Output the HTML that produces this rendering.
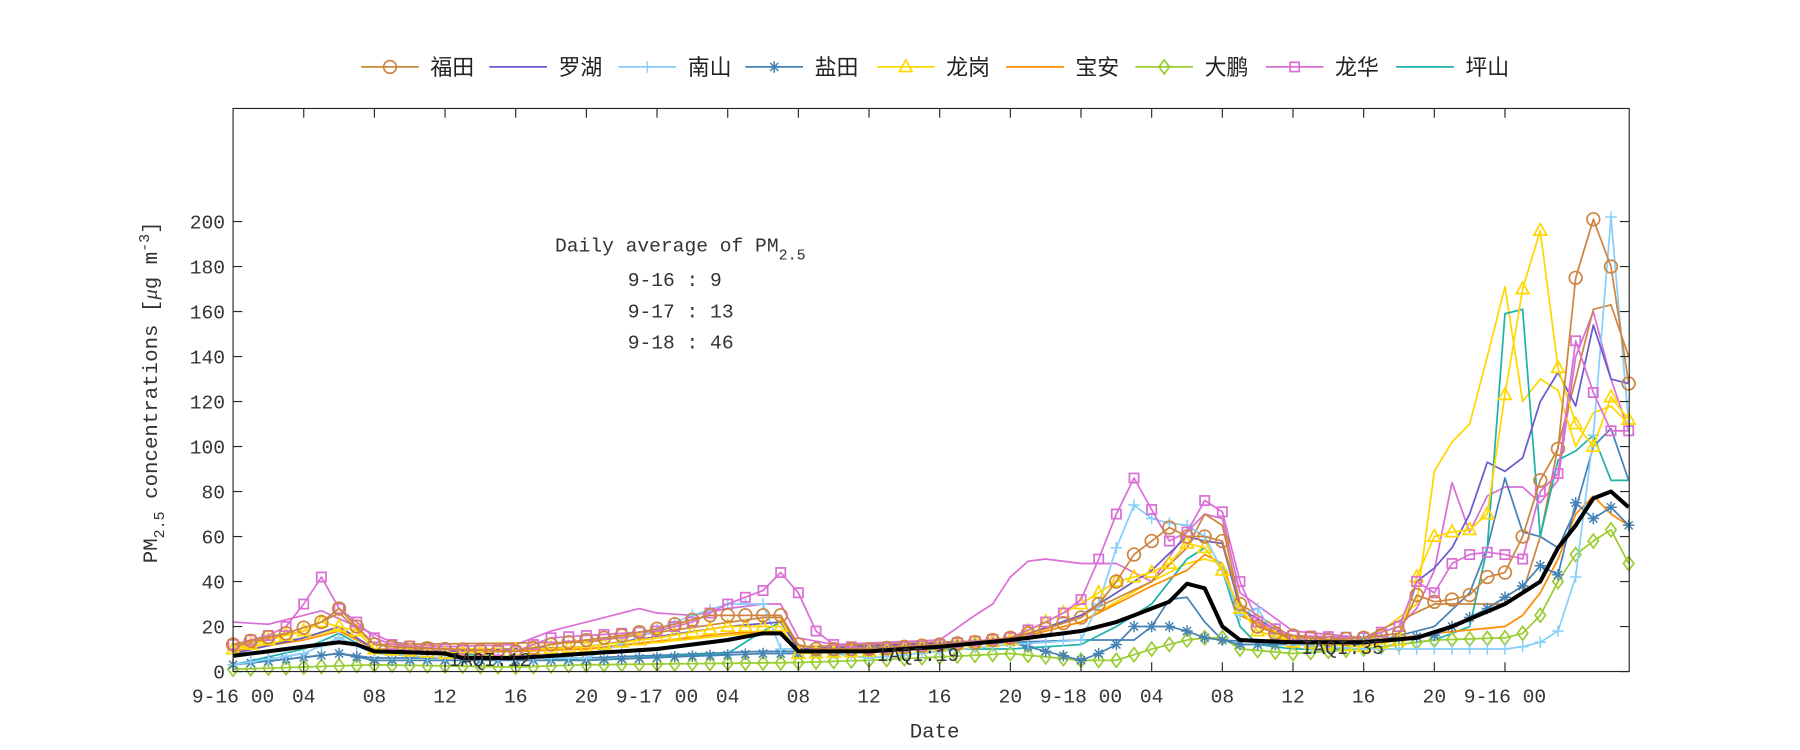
<!DOCTYPE html>
<html><head><meta charset="utf-8">
<style>
html,body{margin:0;padding:0;background:#fff;}
svg{display:block;}
text{font-family:"Liberation Mono",monospace;fill:#333;}
.cjk{font-family:"Liberation Sans","Noto Sans CJK SC",sans-serif;fill:#222;}
</style></head>
<body>
<svg id="s" width="1800" height="750" viewBox="0 0 1560 650" xmlns="http://www.w3.org/2000/svg">
<rect x="0" y="0" width="1560" height="650" fill="#fff"/>
<g id="plot"></g>
<rect x="202" y="94" width="1210" height="488" fill="none" stroke="#262626" stroke-width="1"/>
<g id="ticks"></g>
<g font-size="17">
<text x="481" y="218">Daily average of PM<tspan font-size="13" dy="7">2.5</tspan></text>
<text x="544" y="248">9-16 : 9</text>
<text x="544" y="275">9-17 : 13</text>
<text x="544" y="302">9-18 : 46</text>
<text x="389" y="577">IAQI:12</text>
<text x="760" y="573">IAQI:19</text>
<text x="1128" y="567">IAQI:35</text>
</g>
<text x="810" y="639" font-size="18" text-anchor="middle">Date</text>
<text transform="translate(136,340) rotate(-90)" font-size="18" text-anchor="middle">PM<tspan font-size="13" dy="6">2.5</tspan><tspan dy="-6"> concentrations [</tspan><tspan font-family="Liberation Serif" font-style="italic">μ</tspan>g m<tspan font-size="13" dy="-7">-3</tspan><tspan dy="7">]</tspan></text>
<g id="legend"></g>
</svg>
<script>
var X0=202,PX=15.31,Y0=582,PY=1.95;
function xs(h){return X0+h*PX;}function ys(v){return Y0-v*PY;}
function interp(k){var ks=Object.keys(k).map(Number).sort(function(a,b){return a-b});var out=[];
for(var h=0;h<80;h++){var i=0;while(i<ks.length-1&&ks[i+1]<h)i++;var a=ks[i],b=ks[Math.min(i+1,ks.length-1)];
var v=(h<=a)?k[a]:(h>=b?k[b]:k[a]+(k[b]-k[a])*(h-a)/(b-a));out.push(v);}return out;}
var NS="http://www.w3.org/2000/svg";
function el(t,a,p){var e=document.createElementNS(NS,t);for(var q in a)e.setAttribute(q,a[q]);(p||document.getElementById('plot')).appendChild(e);return e;}
function marker(m,x,y,c,p){
 if(m=='o')el('circle',{cx:x,cy:y,r:5.5,fill:'none',stroke:c,'stroke-width':1.5},p);
 else if(m=='+')el('path',{d:'M'+(x-5)+' '+y+'h10M'+x+' '+(y-5)+'v10',stroke:c,'stroke-width':1.3,fill:'none'},p);
 else if(m=='*')el('path',{d:'M'+(x-5)+' '+y+'h10M'+x+' '+(y-5)+'v10M'+(x-3.5)+' '+(y-3.5)+'l7 7M'+(x-3.5)+' '+(y+3.5)+'l7 -7',stroke:c,'stroke-width':1.3,fill:'none'},p);
 else if(m=='^')el('path',{d:'M'+x+' '+(y-6)+'L'+(x+5.5)+' '+(y+4)+'L'+(x-5.5)+' '+(y+4)+'Z',stroke:c,'stroke-width':1.5,fill:'none'},p);
 else if(m=='d')el('path',{d:'M'+x+' '+(y-6)+'L'+(x+4.5)+' '+y+'L'+x+' '+(y+6)+'L'+(x-4.5)+' '+y+'Z',stroke:c,'stroke-width':1.5,fill:'none'},p);
 else if(m=='s')el('rect',{x:x-4,y:y-4,width:8,height:8,stroke:c,'stroke-width':1.5,fill:'none'},p);
}
function series(k,c,m,w){var d=interp(k);var s='';d.forEach(function(v,h){s+=(h?'L':'M')+xs(h).toFixed(1)+' '+ys(v).toFixed(1);});
 el('path',{d:s,fill:'none',stroke:c,'stroke-width':w||1.5,'stroke-linejoin':'round'});
 if(m)d.forEach(function(v,h){marker(m,xs(h),ys(v),c);});}
series({0:22,2:21,4:25,5:27,7:20,9:13,12:11,16:12,18:18,20:22,22:26,23:28,24:26,26:25,28:28,30:30,31:30,32:15,34:12,40:14,42:25,43:30,44:42,45:49,46:50,48:48,50:48,52:40,54:62,55:70,56:68,57:35,60:18,64:15,66:20,67:28,68:45,69:84,70:62,71:78,72:82,73:82,74:75,75:85,76:140,77:160,78:130,79:107},'#da70d6');
series({0:10,4:15,6:19,8:10,20:10,28:16,31:18,32:9,44:14,48:22,52:40,54:48,55:50,56:48,57:25,60:13,64:12,67:30,68:89,69:102,70:110,71:140,72:171,73:120,74:130,75:125,76:100,77:115,78:118,79:110},'#ffd700');
series({0:3,6:8,8:6,20:6,30:9,32:9,44:13,48:14,51:14,52:20,53:32,54:33,55:22,56:14,60:12,64:12,68:20,70:35,71:55,72:86,73:62,74:60,75:55,76:72,77:100,78:108,79:85},'#4682b4');
series({0:11,4:18,6:26,8:12,20:13,30:24,31:24,32:11,44:14,48:25,52:40,54:55,55:70,56:65,57:30,60:15,64:15,68:30,72:30,73:35,74:60,75:100,76:130,77:161,78:163,79:140},'#cd853f');
series({0:3,4:10,6:17,8:8,12:8,20:5,28:8,30:18,31:22,32:10,44:10,48:12,50:20,52:30,54:50,55:55,56:45,57:20,58:12,60:10,64:10,68:14,70:20,71:55,72:159,73:161,74:60,75:94,76:98,77:105,78:85,79:85},'#20b2aa');
series({0:1,8:3,16:2,20:3,32:4,36:5,44:8,48:5,50:5,52:10,54:14,55:15,56:15,57:10,60:8,64:10,68:14,72:15,73:17,74:25,75:40,76:52,77:58,78:63,79:48},'#9acd32','d');
series({0:9,4:14,6:18,8:10,12:8,20:10,28:17,31:18,32:9,36:9,44:14,48:22,52:38,54:45,55:52,56:48,57:25,60:14,64:13,68:17,72:20,73:25,74:35,75:50,76:70,77:78,78:70,79:65},'#ff8c00');
series({0:3,6:8,8:5,20:5,30:8,32:8,44:13,48:5,49:8,50:12,51:20,52:20,53:20,54:18,55:15,56:14,57:12,60:12,64:14,68:16,69:20,70:24,71:28,72:33,73:38,74:47,75:43,76:75,77:68,78:73,79:65},'#4682b4','*');
series({0:3,4:8,6:15,8:8,12:6,20:6,26:25,28:30,30:30,31:10,32:10,36:6,44:12,48:14,49:30,50:55,51:74,52:68,53:66,54:65,55:60,56:45,57:25,58:28,59:15,60:12,64:10,68:10,72:10,73:11,74:13,75:18,76:42,77:105,78:202,79:110},'#87cefa','+');
series({0:8,4:15,6:20,8:10,12:9,20:11,28:20,31:22,32:10,44:14,48:25,52:45,54:60,55:58,56:57,57:28,60:14,64:13,66:15,67:40,68:46,69:55,70:70,71:93,72:89,73:95,74:120,75:133,76:118,77:154,78:130,79:128},'#6a5acd');
series({0:10,4:18,5:22,6:20,7:18,8:10,12:8,20:11,24:15,28:20,31:20,32:8,36:9,44:14,48:30,49:35,50:40,51:42,52:44,53:48,54:57,55:55,56:45,57:28,58:18,60:13,64:11,66:14,67:42,68:60,69:62,70:63,71:70,72:123,73:170,74:196,75:135,76:110,77:100,78:122,79:112},'#ffd700','^');
series({0:12,2:16,3:20,4:30,5:42,6:28,7:22,8:15,9:12,12:10,16:9,18:15,20:16,24:18,26:22,28:30,29:33,30:36,31:44,32:35,33:18,34:12,36:10,40:12,44:15,46:22,47:26,48:32,49:50,50:70,51:86,52:72,53:58,54:62,55:76,56:71,57:40,58:22,60:16,64:15,66:20,67:40,68:35,69:48,70:52,71:53,72:52,73:50,74:80,75:88,76:147,77:124,78:107,79:107},'#da70d6','s');
series({0:12,3:17,5:22,6:28,7:20,8:12,9:11,12:10,16:9,18:12,20:14,22:16,24:19,26:23,27:25,30:25,31:25,32:12,33:10,36:10,40:12,42:13,44:15,46:19,48:24,49:30,50:40,51:52,52:58,53:64,54:60,55:60,56:58,57:30,58:20,59:17,60:16,62:14,64:15,66:17,67:34,68:31,69:32,70:34,71:42,72:44,73:60,74:85,75:99,76:175,77:201,78:180,79:128},'#cd853f','o');
series({0:7,4:11,6:13,7:12,8:9,12:8,13:6,16:6,20:8,24:10,28:14,30:17,31:17,32:9,36:9,40:11,44:14,48:18,50:22,52:28,53:31,54:39,55:37,56:20,57:14,60:13,64:13,67:15,69:20,72:30,74:40,75:55,76:65,77:77,78:80,79:73},'#000',null,3.5);
var T=document.getElementById('ticks');
for(var v=0;v<=200;v+=20){var y=ys(v);el('line',{x1:202,x2:210,y1:y,y2:y,stroke:'#262626'},T);el('line',{x1:1404,x2:1412,y1:y,y2:y,stroke:'#262626'},T);
 var t=el('text',{x:195,y:y+6,'text-anchor':'end','font-size':17},T);t.textContent=v;}
var labs=['9-16 00','04','08','12','16','20','9-17 00','04','08','12','16','20','9-18 00','04','08','12','16','20','9-16 00'];
for(var i=0;i<labs.length;i++){var x=xs(i*4);if(i>0){el('line',{x1:x,x2:x,y1:582,y2:574,stroke:'#262626'},T);el('line',{x1:x,x2:x,y1:94,y2:102,stroke:'#262626'},T);}
 var t=el('text',{x:x,y:609,'text-anchor':'middle','font-size':17},T);t.textContent=labs[i];}
var L=document.getElementById('legend');
var lg=[['福田','#cd853f','o',373],['罗湖','#6a5acd',null,484],['南山','#87cefa','+',596],['盐田','#4682b4','*',706],['龙岗','#ffd700','^',820],['宝安','#ff8c00',null,932],['大鹏','#9acd32','d',1044],['龙华','#da70d6','s',1157],['坪山','#20b2aa',null,1270]];
lg.forEach(function(g){var x=g[3];el('line',{x1:x-60,x2:x-10,y1:58,y2:58,stroke:g[1],'stroke-width':1.5},L);if(g[2])marker(g[2],x-35,58,g[1],L);
 var t=el('text',{x:x,y:65,'font-size':19,'class':'cjk'},L);t.textContent=g[0];});
</script>
</body></html>
